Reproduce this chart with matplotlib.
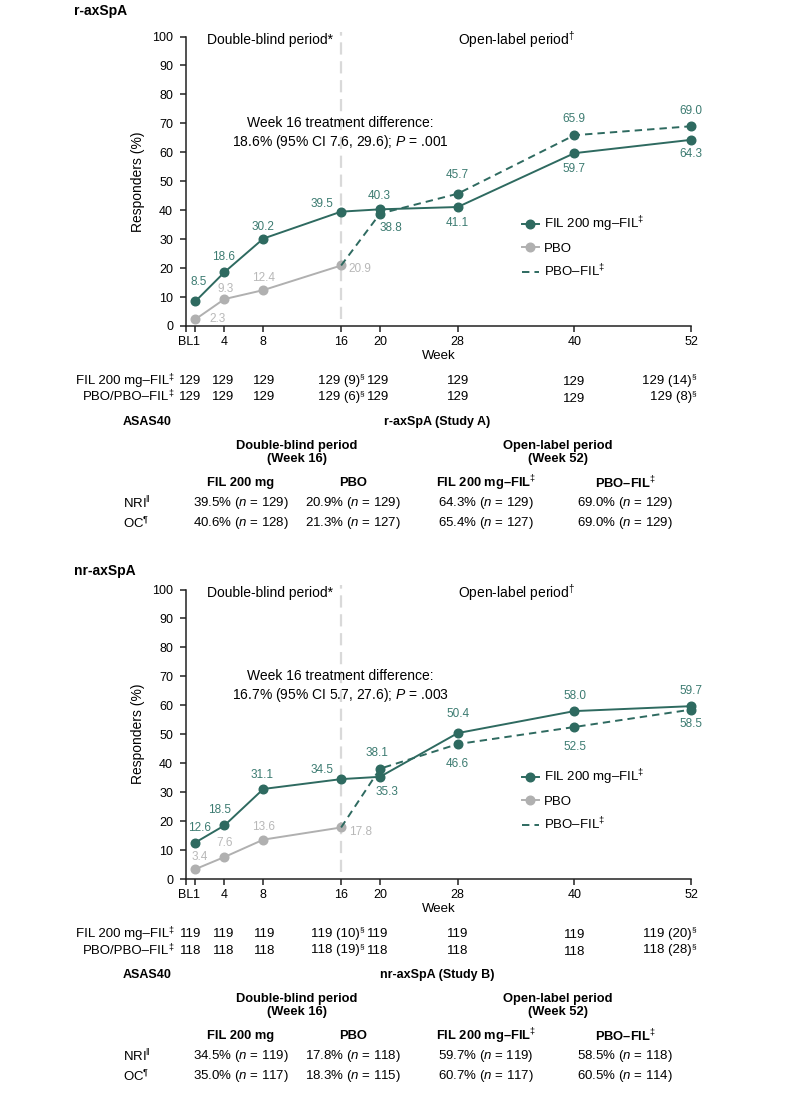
import matplotlib
matplotlib.use("Agg")
import matplotlib.pyplot as plt
from matplotlib.lines import Line2D

plt.rcParams["font.family"] = ["Liberation Sans", "DejaVu Sans"]
plt.rcParams["mathtext.fontset"] = "custom"
plt.rcParams["mathtext.rm"] = "Liberation Sans"
plt.rcParams["mathtext.it"] = "Liberation Sans:italic"
plt.rcParams["mathtext.bf"] = "Liberation Sans:bold"

# ---- data ----
weeks_fil = [1, 4, 8, 16, 20, 28, 40, 52]
weeks_pbo = [1, 4, 8, 16]
weeks_switch = [16, 20, 28, 40, 52]
tick_weeks = [0, 1, 4, 8, 16, 20, 28, 40, 52]
tick_labels = ["BL", "1", "4", "8", "16", "20", "28", "40", "52"]

ra_fil = [8.5, 18.6, 30.2, 39.5, 40.3, 41.1, 59.7, 64.3]
ra_pbo = [2.3, 9.3, 12.4, 20.9]
ra_switch = [20.9, 38.8, 45.7, 65.9, 69.0]

nr_fil = [12.6, 18.5, 31.1, 34.5, 35.3, 50.4, 58.0, 59.7]
nr_pbo = [3.4, 7.6, 13.6, 17.8]
nr_switch = [17.8, 38.1, 46.6, 52.5, 58.5]

# numbers at risk ("§" marks a footnote)
ra_n_fil = ["129", "129", "129", "129 (9)§", "129", "129", "129", "129 (14)§"]
ra_n_pbo = ["129", "129", "129", "129 (6)§", "129", "129", "129", "129 (8)§"]
nr_n_fil = ["119", "119", "119", "119 (10)§", "119", "119", "119", "119 (20)§"]
nr_n_pbo = ["118", "118", "118", "118 (19)§", "118", "118", "118", "118 (28)§"]

columns = ["FIL 200 mg", "PBO", "FIL 200 mg–FIL$^{‡}$", "PBO–FIL$^{‡}$"]
ra_nri_pct = [39.5, 20.9, 64.3, 69.0]
ra_nri_n = [129, 129, 129, 129]
ra_oc_pct = [40.6, 21.3, 65.4, 69.0]
ra_oc_n = [128, 127, 127, 129]
nr_nri_pct = [34.5, 17.8, 59.7, 58.5]
nr_nri_n = [119, 118, 119, 118]
nr_oc_pct = [35.0, 18.3, 60.7, 60.5]
nr_oc_n = [117, 115, 117, 114]

ra_diff = "Week 16 treatment difference:\n18.6% (95% CI 7.6, 29.6); $P$ = .001"
nr_diff = "Week 16 treatment difference:\n16.7% (95% CI 5.7, 27.6); $P$ = .003"

# label offsets in pixels (dx, dy)
ra_fil_off = [(3, 19), (-1, 15), (0, 12), (-19, 8), (-1, 13), (0, -16), (0, -16), (0, -14)]
ra_pbo_off = [(22, 0), (1, 10), (0, 12), (19, -4)]
ra_sw_off = [(11, -14), (0, 19), (0, 16), (0, 15)]
nr_fil_off = [(4, 15), (-5, 15), (-1, 14), (-19, 9), (7, -15), (0, 19), (1, 15), (0, 15)]
nr_pbo_off = [(4, 12), (0, 14), (0, 13), (19, -5)]
nr_sw_off = [(-3, 16), (0, -20), (1, -20), (0, -14)]

TEAL = "#2e6a60"
TEAL_TXT = "#3c7b71"
GRAY = "#b0b0b0"
GRAY_TXT = "#b8b8b8"

W, H = 809, 1094
fig = plt.figure(figsize=(W / 100, H / 100), dpi=100)


def fx(x):
    return x / W


def fy(y):
    return 1 - y / H


def panel(bottom, title, title_y, fil, pbo, sw, fil_off, pbo_off, sw_off,
          diff, n_fil, n_pbo, study, nri_pct, nri_n, oc_pct, oc_n):
    ax = fig.add_axes([fx(185.6), fy(bottom), 505.4 / W, 289.5 / H])
    ax.set_xlim(0, 52)
    ax.set_ylim(0, 100)
    for s in ["top", "right"]:
        ax.spines[s].set_visible(False)
    for s in ["left", "bottom"]:
        ax.spines[s].set_linewidth(1.1)
        ax.spines[s].set_color("#222222")
    ax.set_yticks(range(0, 101, 10))
    ax.set_xticks(tick_weeks)
    ax.set_xticklabels(tick_labels)
    ax.tick_params(axis="both", labelsize=9, length=4, width=1.1, color="#222222")
    ax.tick_params(axis="y", pad=5)
    ax.set_ylabel("Responders (%)", fontsize=10, labelpad=5)
    ax.set_xlabel("Week", fontsize=9.5, labelpad=1)

    ax.plot([16, 16], [2.5, 101.5], color="#d9d9d9", lw=1.6,
            ls=(0, (5.5, 3)), clip_on=False, zorder=1)

    ax.plot(weeks_pbo, pbo, color=GRAY, lw=1.4, marker="o", ms=6.2, zorder=2)
    ax.plot(weeks_switch, sw, color=TEAL, lw=1.4, ls=(0, (3.8, 2.6)), zorder=3)
    ax.plot(weeks_switch[1:], sw[1:], ls="none", color=TEAL, marker="o", ms=6.2,
            clip_on=False, zorder=3)
    ax.plot(weeks_fil, fil, color=TEAL, lw=1.4, marker="o", ms=6.2,
            clip_on=False, zorder=4)

    for w, v, o in zip(weeks_fil, fil, fil_off):
        ax.annotate(f"{v:.1f}", (w, v), xytext=o, textcoords="offset pixels",
                    ha="center", va="center", fontsize=8.5, color=TEAL_TXT)
    for w, v, o in zip(weeks_pbo, pbo, pbo_off):
        ax.annotate(f"{v:.1f}", (w, v), xytext=o, textcoords="offset pixels",
                    ha="center", va="center", fontsize=8.5, color=GRAY_TXT)
    for w, v, o in zip(weeks_switch[1:], sw[1:], sw_off):
        ax.annotate(f"{v:.1f}", (w, v), xytext=o, textcoords="offset pixels",
                    ha="center", va="center", fontsize=8.5, color=TEAL_TXT)

    ax.text(2.2, 98.8, "Double-blind period*", fontsize=10, ha="left", va="center")
    ax.text(28, 98.8, "Open-label period$^{†}$", fontsize=10, ha="left", va="center")
    ax.text(15.9, 66.6, diff, fontsize=10, ha="center", va="center",
            multialignment="center", linespacing=1.25)

    handles = [
        Line2D([], [], color=TEAL, lw=1.4, marker="o", ms=6.2),
        Line2D([], [], color=GRAY, lw=1.4, marker="o", ms=6.2),
        Line2D([], [], color=TEAL, lw=1.4, ls=(0, (3.8, 2.6))),
    ]
    ax.legend(handles, ["FIL 200 mg–FIL$^{‡}$", "PBO", "PBO–FIL$^{‡}$"],
              loc="upper left", bbox_to_anchor=(0.666, 0.385), frameon=False,
              fontsize=9.5, handlelength=1.25, handletextpad=0.4,
              labelspacing=0.62, borderpad=0, borderaxespad=0)

    fig.text(fx(74), fy(title_y), title, fontsize=10, fontweight="bold",
             ha="left", va="center")

    # numbers at risk
    risk_dx = [-5, -1, 1, 19, -2, 0, 0, 1]
    risk_dy = [0, 0, 0, 0, 0, 0, 1.5, 0]
    for row, (name, vals) in enumerate([("FIL 200 mg–FIL", n_fil),
                                        ("PBO/PBO–FIL", n_pbo)]):
        y = bottom + 55 + 16.5 * row
        fig.text(fx(169), fy(y), name, fontsize=9.5, ha="right", va="center")
        fig.text(fx(168.5), fy(y - 4), "‡", fontsize=6.5, ha="left", va="center")
        for i, (w, t) in enumerate(zip(weeks_fil, vals)):
            note = t.endswith("§")
            ax.annotate(t.rstrip("§"), (w, fy(y)),
                        xycoords=("data", "figure fraction"),
                        xytext=(risk_dx[i], -risk_dy[i]), textcoords="offset pixels",
                        ha="right" if note else "center",
                        va="center", fontsize=9.5, annotation_clip=False)
            if note:
                ax.annotate("§", (w, fy(y)), xycoords=("data", "figure fraction"),
                            xytext=(risk_dx[i] - 0.5, 4), textcoords="offset pixels",
                            ha="left", va="center", fontsize=6,
                            annotation_clip=False)

    # summary table
    fig.text(fx(123), fy(bottom + 96), "ASAS40", fontsize=9, fontweight="bold",
             ha="left", va="center")
    fig.text(fx(437), fy(bottom + 96), study, fontsize=9, fontweight="bold",
             ha="center", va="center")
    fig.text(fx(297), fy(bottom + 126.5), "Double-blind period\n(Week 16)",
             fontsize=9.3, fontweight="bold", ha="center", va="center",
             multialignment="center", linespacing=1.2)
    fig.text(fx(558), fy(bottom + 126.5), "Open-label period\n(Week 52)",
             fontsize=9.3, fontweight="bold", ha="center", va="center",
             multialignment="center", linespacing=1.2)
    col_x = [241, 353, 486, 625]
    for cx, c in zip(col_x, columns):
        fig.text(fx(cx), fy(bottom + 157), c, fontsize=9.3, fontweight="bold",
                 ha="center", va="center")
    for r, (lab, pcts, ns) in enumerate([("NRI$^{‖}$", nri_pct, nri_n),
                                          ("OC$^{¶}$", oc_pct, oc_n)]):
        y = bottom + 177 + 20 * r
        fig.text(fx(123), fy(y), lab, fontsize=9.5, ha="left", va="center")
        for cx, p, n in zip(col_x, pcts, ns):
            fig.text(fx(cx), fy(y), f"{p:.1f}% ($n$ = {n})", fontsize=9.5,
                     ha="center", va="center")
    return ax


panel(326, "r-axSpA", 11, ra_fil, ra_pbo, ra_switch, ra_fil_off, ra_pbo_off,
      ra_sw_off, ra_diff, ra_n_fil, ra_n_pbo, "r-axSpA (Study A)",
      ra_nri_pct, ra_nri_n, ra_oc_pct, ra_oc_n)
panel(879, "nr-axSpA", 571, nr_fil, nr_pbo, nr_switch, nr_fil_off, nr_pbo_off,
      nr_sw_off, nr_diff, nr_n_fil, nr_n_pbo, "nr-axSpA (Study B)",
      nr_nri_pct, nr_nri_n, nr_oc_pct, nr_oc_n)

fig.savefig("out.png", dpi=100)
